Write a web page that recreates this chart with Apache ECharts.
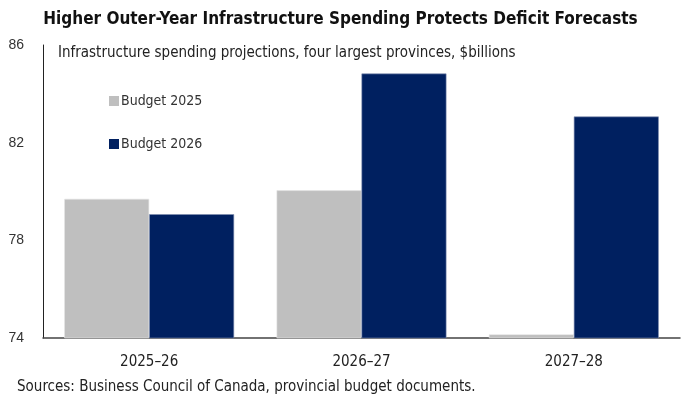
<!DOCTYPE html>
<html>
<head>
    <meta charset="utf-8" />
    <title>Infrastructure spending</title>
    <script src="https://cdn.jsdelivr.net/npm/echarts@6/dist/echarts.min.js"></script>
    <style>
        body { margin: 0; background: #fff; }
    </style>
</head>
<body>
<div id="main" style="width: 681px;height:399px;"></div>
<script type="text/javascript">
    // data
    var years = ['2025\u201326', '2026\u201327', '2027\u201328'];
    var budget2025 = [79.7, 80.05, 74.15];
    var budget2026 = [79.07, 84.83, 83.07];
    var yTicks = [74, 78, 82, 86];

    var narrow = '"Liberation Sans Narrow", "DejaVu Sans Condensed", sans-serif';

    var myChart = echarts.init(document.getElementById('main'));
    var option = {
        animation: false,
        title: [
            {
                text: 'Higher Outer-Year Infrastructure Spending Protects Deficit Forecasts',
                left: 'center',
                top: 6,
                textStyle: { fontFamily: narrow, fontSize: 17, fontWeight: 'bold', color: '#111' }
            },
            {
                text: 'Infrastructure spending projections, four largest provinces, $billions',
                left: 53,
                top: 41,
                textStyle: { fontFamily: narrow, fontSize: 15, fontWeight: 'normal', color: '#222' }
            },
            {
                text: 'Sources: Business Council of Canada, provincial budget documents.',
                left: 12,
                top: 375,
                textStyle: { fontFamily: narrow, fontSize: 15, fontWeight: 'normal', color: '#222' }
            }
        ],
        legend: {
            orient: 'vertical',
            left: 104,
            top: 89,
            itemWidth: 10,
            itemHeight: 10,
            itemGap: 29,
            icon: 'rect',
            itemStyle: { borderWidth: 0 },
            textStyle: { fontFamily: narrow, fontSize: 14, color: '#333', padding: [0, 0, 0, -3] },
            data: ['Budget 2025', 'Budget 2026']
        },
        grid: { left: 43, right: 1, top: 45, bottom: 61 },
        xAxis: {
            type: 'category',
            data: years,
            axisLine: { lineStyle: { color: '#444', width: 1.5 } },
            axisTick: { show: false },
            axisLabel: { fontFamily: narrow, fontSize: 15, color: '#222', margin: 17 }
        },
        yAxis: {
            type: 'value',
            min: yTicks[0],
            max: yTicks[yTicks.length - 1],
            interval: 4,
            axisLine: { show: true, lineStyle: { color: '#222', width: 1 } },
            axisTick: { show: false },
            splitLine: { show: false },
            axisLabel: { fontFamily: 'Liberation Sans, Arial, sans-serif', fontSize: 14, color: '#333', margin: 19 }
        },
        series: [
            {
                name: 'Budget 2025',
                type: 'bar',
                data: budget2025,
                barGap: '0%',
                barCategoryGap: '20%',
                itemStyle: { color: '#BFBFBF', borderColor: '#e6e6e6', borderWidth: 0.6 }
            },
            {
                name: 'Budget 2026',
                type: 'bar',
                data: budget2026,
                itemStyle: { color: '#002060', borderColor: '#7f8fb0', borderWidth: 0.6 }
            }
        ]
    };
    myChart.setOption(option);
</script>
</body>
</html>
